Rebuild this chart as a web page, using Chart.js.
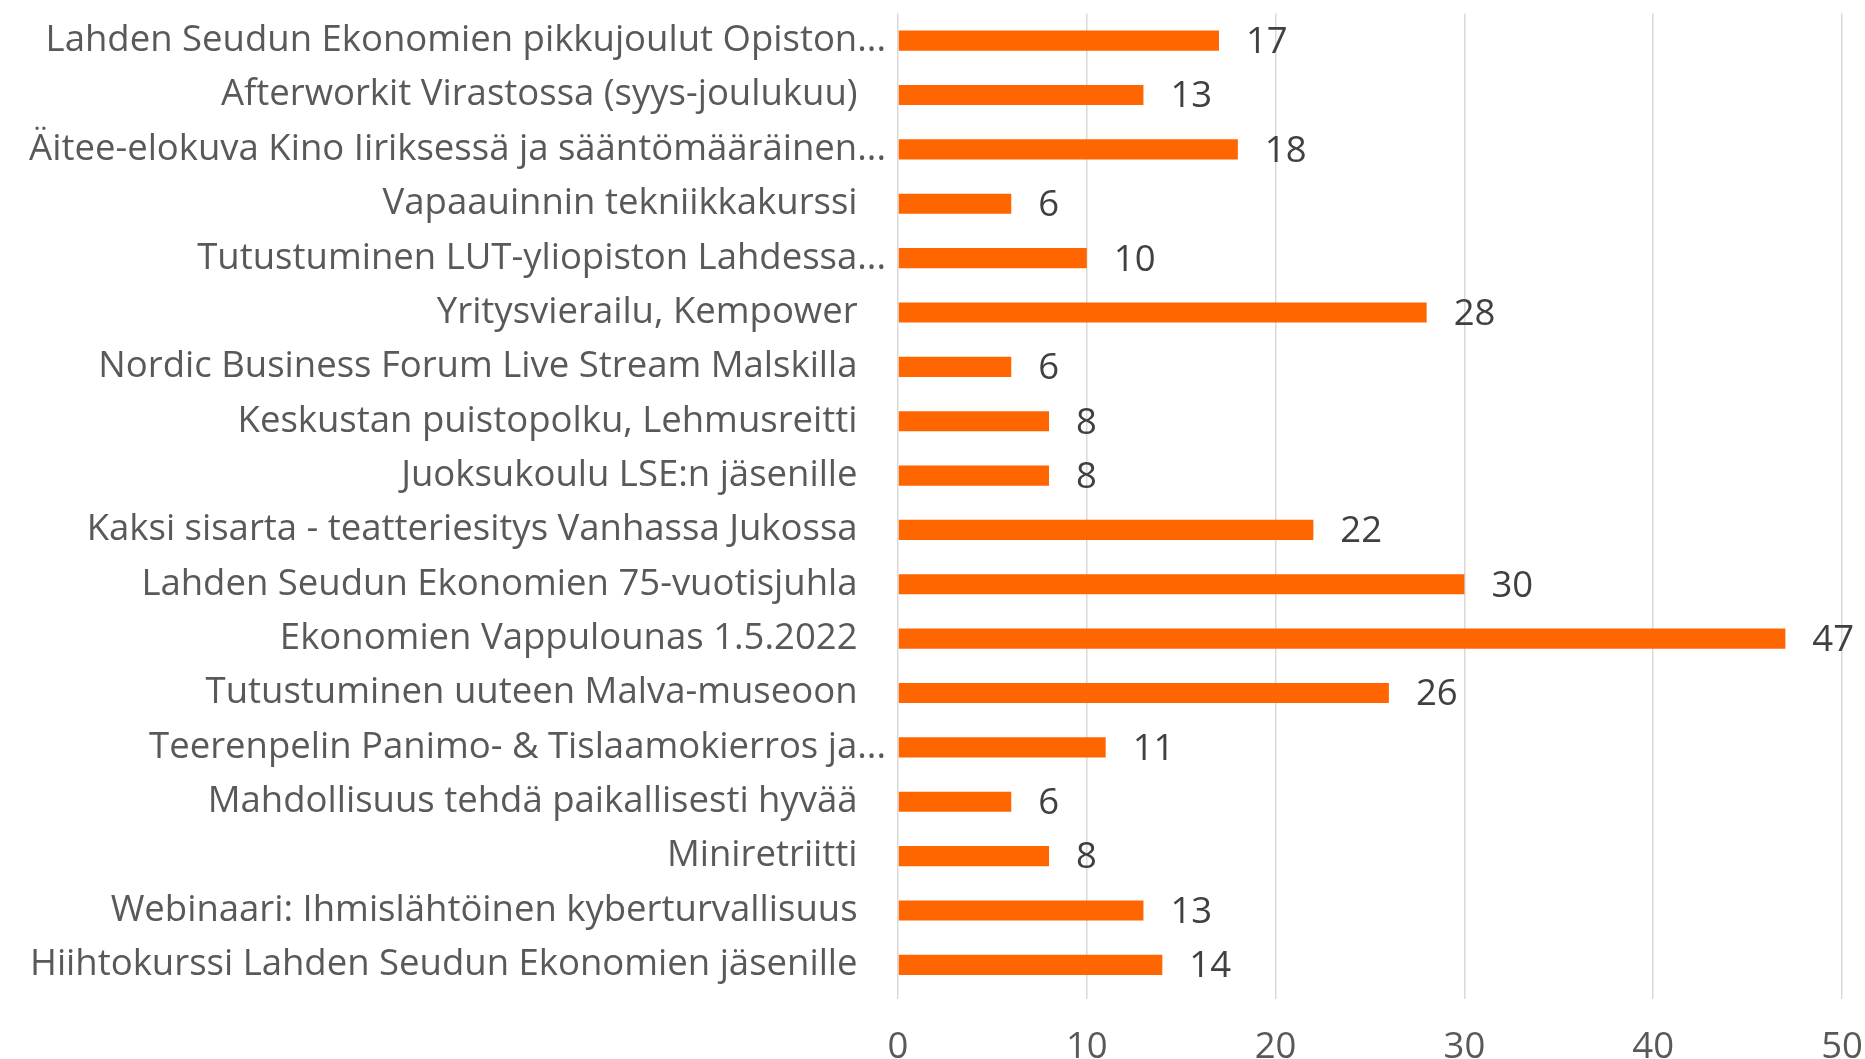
<!DOCTYPE html>
<html>
<head>
<meta charset="utf-8">
<script src="https://cdn.jsdelivr.net/npm/chart.js@4/dist/chart.umd.min.js"></script>
<style>
html,body{margin:0;padding:0;background:#fff;}
#wrap{width:1865px;height:1059px;position:relative;}
</style>
</head>
<body>
<div id="wrap"><canvas id="c" width="1865" height="1059"></canvas></div>
<script>
const categories = [
  "Lahden Seudun Ekonomien pikkujoulut Opiston...",
  "Afterworkit Virastossa (syys-joulukuu)",
  "Äitee-elokuva Kino Iiriksessä ja sääntömääräinen...",
  "Vapaauinnin tekniikkakurssi",
  "Tutustuminen LUT-yliopiston Lahdessa...",
  "Yritysvierailu, Kempower",
  "Nordic Business Forum Live Stream Malskilla",
  "Keskustan puistopolku, Lehmusreitti",
  "Juoksukoulu LSE:n jäsenille",
  "Kaksi sisarta - teatteriesitys Vanhassa Jukossa",
  "Lahden Seudun Ekonomien 75-vuotisjuhla",
  "Ekonomien Vappulounas 1.5.2022",
  "Tutustuminen uuteen Malva-museoon",
  "Teerenpelin Panimo- & Tislaamokierros ja...",
  "Mahdollisuus tehdä paikallisesti hyvää",
  "Miniretriitti",
  "Webinaari: Ihmislähtöinen kyberturvallisuus",
  "Hiihtokurssi Lahden Seudun Ekonomien jäsenille"
];
const participants = [17, 13, 18, 6, 10, 28, 6, 8, 8, 22, 30, 47, 26, 11, 6, 8, 13, 14];
const xTickMin = 0;
const xTickMax = 50;
const xTickStep = 10;

const FONT = "'Open Sans', 'Noto Sans', sans-serif";
const FSIZE = 36.5;

const valueLabels = {
  id: 'valueLabels',
  afterDatasetsDraw(chart) {
    const ctx = chart.ctx;
    const meta = chart.getDatasetMeta(0);
    const data = chart.data.datasets[0].data;
    ctx.save();
    ctx.font = FSIZE + "px " + FONT;
    ctx.fillStyle = '#404040';
    ctx.textAlign = 'left';
    ctx.textBaseline = 'middle';
    meta.data.forEach((el, i) => {
      ctx.fillText(String(data[i]), el.x + 27, el.y + 2);
    });
    ctx.restore();
  }
};

new Chart(document.getElementById('c'), {
  type: 'bar',
  data: {
    labels: categories,
    datasets: [{
      data: participants,
      backgroundColor: '#FF6600',
      borderWidth: 0,
      barPercentage: 0.37,
      categoryPercentage: 1.0
    }]
  },
  options: {
    indexAxis: 'y',
    responsive: false,
    animation: false,
    devicePixelRatio: 1,
    layout: { padding: { top: 13.5, right: 23, left: 0, bottom: 0 } },
    plugins: { legend: { display: false }, tooltip: { enabled: false } },
    scales: {
      x: {
        min: xTickMin,
        max: xTickMax,
        ticks: {
          stepSize: xTickStep,
          padding: 27,
          maxRotation: 0,
          color: '#595959',
          font: { family: FONT, size: FSIZE }
        },
        grid: {
          color: '#d9d9d9',
          lineWidth: 1.5,
          drawTicks: true,
          tickLength: 7,
          tickColor: '#d9d9d9'
        },
        border: { display: false },
        afterFit(scale) { scale.height = 67; scale.paddingLeft = 0; scale.paddingRight = 0; }
      },
      y: {
        ticks: {
          padding: 12,
          color: '#595959',
          font: { family: FONT, size: FSIZE },
          autoSkip: false,
          callback: function(value) {
            const l = this.getLabelForValue(value);
            return l.endsWith('...') ? l : l + '   ';
          }
        },
        grid: { display: false, drawTicks: false },
        border: { display: false },
        afterFit(scale) { scale.width = 898; scale.paddingTop = 0; scale.paddingBottom = 0; }
      }
    }
  },
  plugins: [valueLabels]
});
</script>
</body>
</html>
